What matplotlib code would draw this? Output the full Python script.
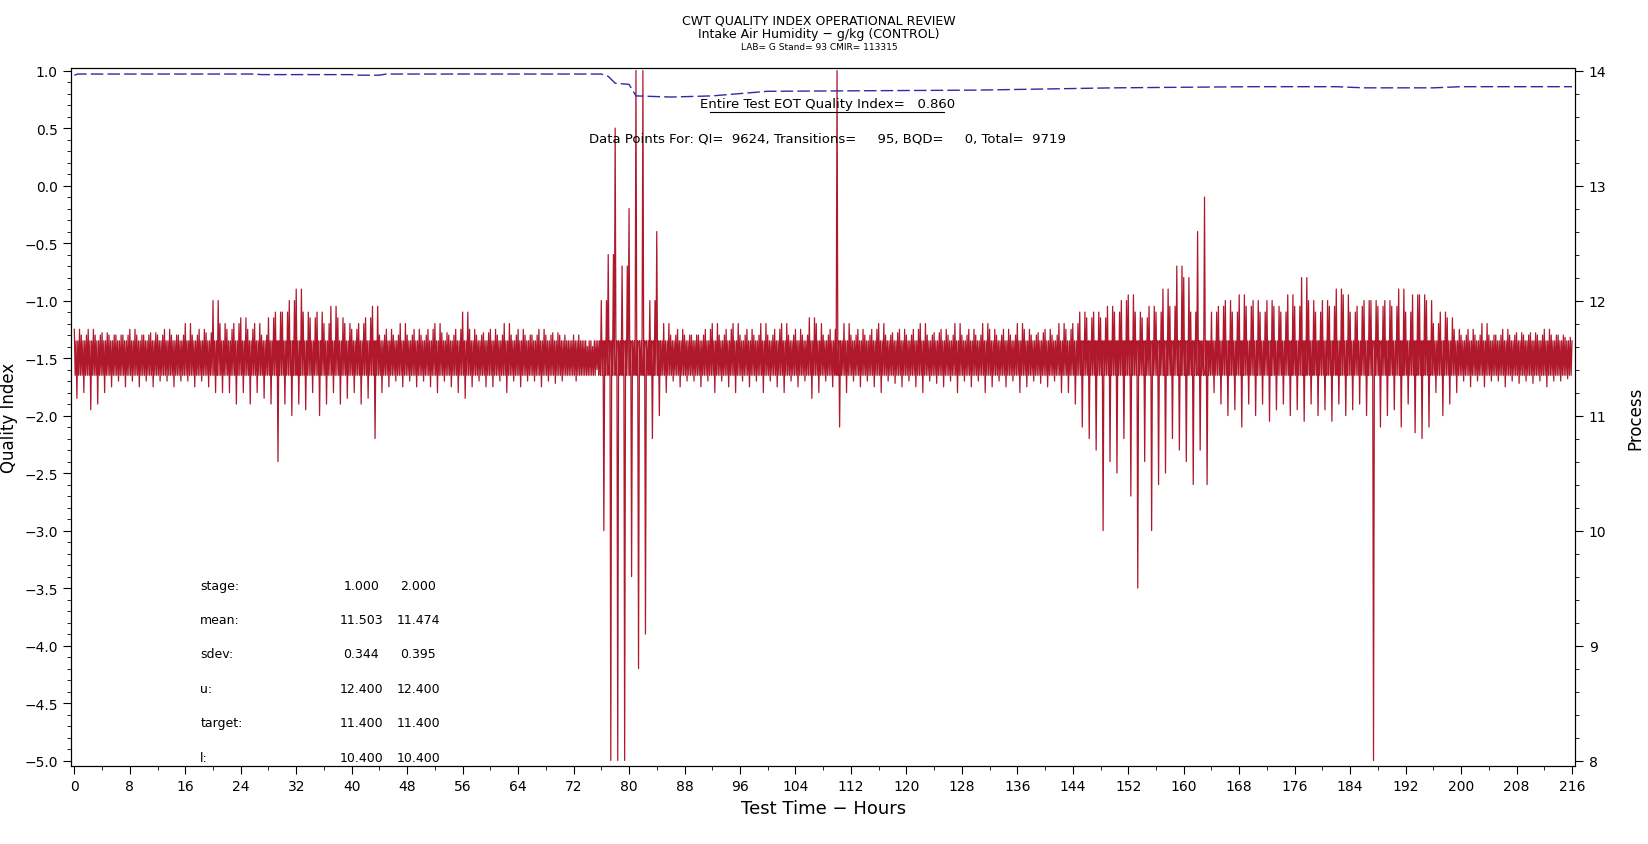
import matplotlib
matplotlib.use("Agg")
import matplotlib.pyplot as plt
import numpy as np
from matplotlib.ticker import MultipleLocator

hours = list(range(217))
proc_hi = [11.75,11.7,11.75,11.7,11.72,11.7,11.7,11.7,11.75,11.7,
11.7,11.72,11.7,11.75,11.7,11.7,11.8,11.7,11.75,11.72,
12.0,11.8,11.75,11.8,11.85,11.75,11.8,11.7,11.85,11.9,
11.9,12.0,12.1,11.9,11.85,11.9,11.8,11.95,11.85,11.8,
11.75,11.8,11.85,11.95,11.7,11.75,11.7,11.8,11.7,11.75,
11.7,11.75,11.8,11.72,11.7,11.75,11.9,11.75,11.7,11.72,
11.75,11.7,11.8,11.7,11.75,11.7,11.7,11.75,11.7,11.72,
11.7,11.65,11.7,11.65,11.6,11.65,12.0,12.4,13.5,12.3,
12.8,14.0,14.0,12.0,12.6,11.8,11.7,11.75,11.7,11.7,
11.7,11.75,11.8,11.7,11.75,11.8,11.7,11.75,11.7,11.8,
11.7,11.75,11.8,11.7,11.75,11.7,11.85,11.8,11.7,11.75,
14.0,11.8,11.7,11.75,11.7,11.75,11.8,11.7,11.72,11.75,
11.7,11.75,11.8,11.7,11.72,11.75,11.7,11.8,11.7,11.75,
11.7,11.8,11.75,11.7,11.75,11.7,11.8,11.75,11.7,11.72,
11.75,11.7,11.8,11.75,11.8,11.9,11.85,11.9,11.85,11.95,
11.9,12.0,12.05,11.9,11.85,11.95,11.9,12.1,11.95,12.3,
12.2,11.9,12.6,12.9,11.9,11.95,12.0,11.9,12.05,11.95,
12.0,11.9,12.0,11.95,11.9,12.05,11.95,12.2,12.0,11.9,
12.0,11.95,12.1,12.05,11.9,11.95,12.0,12.0,11.95,12.0,
11.95,12.1,11.9,12.05,12.05,12.0,11.8,11.9,11.85,11.75,
11.7,11.75,11.7,11.8,11.7,11.7,11.75,11.7,11.72,11.7,
11.72,11.7,11.75,11.7,11.7,11.68,11.65]
proc_lo = [11.15,11.2,11.05,11.1,11.2,11.25,11.3,11.25,11.3,11.25,
11.3,11.25,11.3,11.3,11.25,11.3,11.3,11.25,11.3,11.25,
11.2,11.2,11.2,11.1,11.2,11.1,11.2,11.15,11.1,10.6,
11.1,11.0,11.1,11.05,11.2,11.0,11.1,11.2,11.1,11.15,
11.2,11.1,11.15,10.8,11.2,11.25,11.3,11.25,11.3,11.25,
11.3,11.25,11.2,11.3,11.25,11.2,11.15,11.25,11.3,11.25,
11.25,11.3,11.2,11.3,11.25,11.3,11.3,11.25,11.3,11.28,
11.3,11.35,11.3,11.35,11.35,11.4,10.0,8.0,8.0,8.0,
9.6,8.8,9.1,10.8,11.0,11.2,11.3,11.25,11.3,11.3,
11.25,11.3,11.2,11.3,11.25,11.2,11.3,11.25,11.3,11.2,
11.3,11.25,11.2,11.3,11.25,11.3,11.15,11.2,11.3,11.25,
10.9,11.2,11.3,11.25,11.3,11.25,11.2,11.3,11.28,11.25,
11.3,11.25,11.2,11.3,11.28,11.25,11.3,11.2,11.3,11.25,
11.3,11.2,11.25,11.3,11.25,11.3,11.2,11.25,11.3,11.28,
11.25,11.3,11.2,11.2,11.1,10.9,10.8,10.7,10.0,10.6,
10.5,10.8,10.3,9.5,10.6,10.0,10.4,10.5,10.8,10.7,
10.6,10.4,10.7,10.4,11.2,11.1,11.0,11.05,10.9,11.1,
11.0,11.1,10.95,11.05,11.1,11.0,11.05,10.95,11.1,11.0,
11.05,10.95,11.1,11.0,11.05,11.1,11.0,8.0,10.9,11.0,
11.05,10.9,11.1,10.85,10.8,10.9,11.2,11.0,11.1,11.2,
11.3,11.25,11.3,11.25,11.3,11.3,11.25,11.3,11.28,11.3,
11.28,11.3,11.25,11.3,11.3,11.32,11.35]
# typical core band of the process trace
core_hi = 11.65
core_lo = 11.35

qi_t = [0,0.5,26,27,40,41,44,45,76,77,78,80,81,86,92,100,130,150,170,182,186,196,200,216]
qi_v = [0.96,0.97,0.97,0.965,0.965,0.96,0.96,0.97,0.97,0.95,0.89,0.88,0.78,0.77,0.78,0.82,0.83,0.85,0.86,0.86,0.85,0.85,0.86,0.86]

stage_labels = ["stage:", "mean:", "sdev:", "u:", "target:", "l:"]
stage1 = ["1.000", "11.503", "0.344", "12.400", "11.400", "10.400"]
stage2 = ["2.000", "11.474", "0.395", "12.400", "11.400", "10.400"]

plt.rcParams['font.family'] = ['DejaVu Sans']
fig = plt.figure(figsize=(16.48, 8.45), dpi=100)
ax = fig.add_axes([0.043, 0.092, 0.913, 0.826])
ax2 = ax.twinx()

red = "#b0182c"
# dense strokes: each hour drawn as hi/core/lo/core sweeps
xs, ys = [], []
for h, hi, lo in zip(hours, proc_hi, proc_lo):
    xs += [h, h + 0.12, h + 0.25, h + 0.37, h + 0.5, h + 0.62, h + 0.75, h + 0.87]
    ys += [hi, core_lo, core_hi, lo, core_hi, core_lo, hi if hi < 12.5 else core_hi, core_lo]
xs, ys = xs[:-7], ys[:-7]
ax2.plot(xs, ys, color=red, lw=0.9)

ax.plot(qi_t, qi_v, color="#2b2ba8", lw=1.0, ls=(0, (9, 3)))
ax.set_zorder(ax2.get_zorder() + 1)
ax.patch.set_visible(False)

ax.set_xlim(-0.5, 216.5)
ax.set_ylim(-5.05, 1.02)
ax2.set_ylim(7.95, 14.02)
ax.xaxis.set_major_locator(MultipleLocator(8))
ax.xaxis.set_minor_locator(MultipleLocator(4))
ax.yaxis.set_major_locator(MultipleLocator(0.5))
ax.yaxis.set_minor_locator(MultipleLocator(0.1))
ax2.yaxis.set_major_locator(MultipleLocator(1))
ax2.yaxis.set_minor_locator(MultipleLocator(0.2))
for a in (ax, ax2):
    a.tick_params(which='both', direction='out', labelsize=10)
    a.tick_params(which='major', length=6)
    a.tick_params(which='minor', length=3)
ax.set_yticklabels([f"{v:.1f}".replace("-", "\u2212") for v in ax.get_yticks()])

ax.set_xlabel("Test Time \u2212 Hours", fontsize=13)
ax.set_ylabel("Quality Index", fontsize=12)
ax2.set_ylabel("Process", fontsize=12, labelpad=14)

fig.text(0.497, 0.975, "CWT QUALITY INDEX OPERATIONAL REVIEW", ha='center', va='center', fontsize=9)
fig.text(0.497, 0.959, "Intake Air Humidity \u2212 g/kg (CONTROL)", ha='center', va='center', fontsize=9)
fig.text(0.497, 0.944, "LAB= G Stand= 93 CMIR= 113315", ha='center', va='center', fontsize=6.5)

ax.text(0.503, 0.95, "Entire Test EOT Quality Index=   0.860", transform=ax.transAxes,
        ha='center', va='center', fontsize=9.5)
ax.text(0.503, 0.90, "Data Points For: QI=  9624, Transitions=     95, BQD=     0, Total=  9719",
        transform=ax.transAxes, ha='center', va='center', fontsize=9.5)
ax.plot([0.425, 0.58], [0.937, 0.937], transform=ax.transAxes, color='black', lw=0.8)

rows_y = [0.259, 0.21, 0.162, 0.112, 0.063, 0.013]
for lab, a, b, y in zip(stage_labels, stage1, stage2, rows_y):
    ax.text(0.086, y, lab, transform=ax.transAxes, ha='left', va='center', fontsize=9)
    ax.text(0.193, y, a, transform=ax.transAxes, ha='center', va='center', fontsize=9)
    ax.text(0.231, y, b, transform=ax.transAxes, ha='center', va='center', fontsize=9)

fig.savefig("out.png", dpi=100)
